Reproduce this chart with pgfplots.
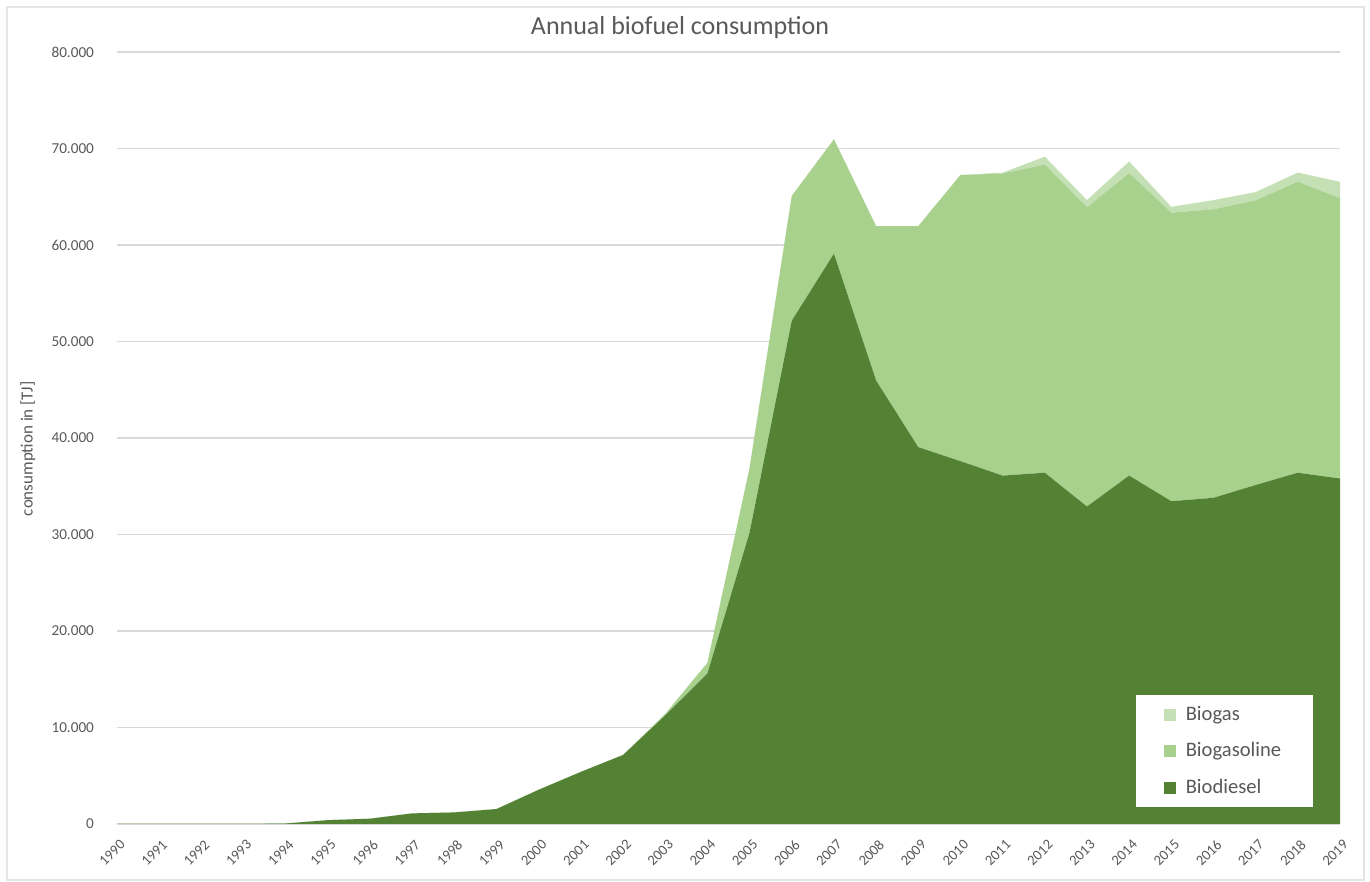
\documentclass[border=0pt]{standalone}
\usepackage{pgfplots}
\usepackage{pgfplotstable}
\pgfplotsset{compat=1.18}
\usepackage{fontspec}
\setmainfont{Carlito}
\definecolor{diesel}{HTML}{548235}
\definecolor{gasoline}{HTML}{A9D18E}
\definecolor{biogas}{HTML}{C5E0B4}
\definecolor{txt}{HTML}{595959}
\definecolor{gridc}{HTML}{D9D9D9}

\pgfplotstableread{
year diesel gasoline gas
1990 0 0 0
1991 0 0 0
1992 0 0 0
1993 0 0 0
1994 50 0 0
1995 400 0 0
1996 550 0 0
1997 1100 0 0
1998 1200 0 0
1999 1550 0 0
2000 3550 0 0
2001 5400 0 0
2002 7150 0 0
2003 11250 150 0
2004 15600 1100 0
2005 30200 6700 0
2006 52150 12930 0
2007 59100 11850 0
2008 45950 16000 0
2009 39050 22900 0
2010 37600 29650 0
2011 36100 31300 100
2012 36400 31950 800
2013 32900 31000 750
2014 36100 31350 1200
2015 33450 29900 600
2016 33800 29900 950
2017 35130 29500 850
2018 36400 30150 950
2019 35800 29050 1700
}\data

\begin{document}
\begin{tikzpicture}
\path[use as bounding box, fill=white] (-58.5pt,-29pt) rectangle (626.5pt,412pt);
\draw[gray!20, line width=0.8pt] (-55pt,-28pt) rectangle (623.5pt,408.5pt);
\begin{axis}[
  scale only axis,
  width=611.5pt, height=386pt,
  xmin=1990, xmax=2019, ymin=0, ymax=80000,
  enlargelimits=false,
  stack plots=y,
  xtick={1990,1991,...,2019},
  ytick={0,10000,...,80000},
  scaled y ticks=false,
  ymajorgrids,
  grid style={gridc, line width=0.6pt},
  axis line style={draw=none},
  major tick length=0pt,
  tick style={draw=none},
  /pgf/number format/assume math mode=true,
  yticklabel style={/pgf/number format/.cd, 1000 sep={.}, fixed, precision=0, /tikz/.cd,
    font=\fontsize{7.6}{9}\selectfont, text=txt, anchor=east, xshift=-8pt},
  xticklabel style={/pgf/number format/.cd, 1000 sep={}, /tikz/.cd,
    font=\fontsize{7.3}{8}\selectfont, text=txt, rotate=45, anchor=east, yshift=-8.5pt, xshift=-1pt},
  title={Annual biofuel consumption},
  title style={at={(0.4604,1.0156)}, anchor=center, font=\fontsize{13}{15}\selectfont, text=txt},
  ylabel={consumption in [TJ]},
  ylabel style={at={(-0.0728,0.486)}, anchor=center, rotate=0, font=\fontsize{8.5}{10}\selectfont, text=txt},
  reverse legend,
  legend image code/.code={\fill[#1] (0pt,-3pt) rectangle (6pt,3pt); \path (9pt,0pt);},
  legend style={at={(0.978,0.167)}, anchor=north east, draw=none, fill=white,
    font=\fontsize{10.3}{12}\selectfont, text=txt, inner xsep=13.75pt, inner ysep=3.5pt,
    row sep=5.5pt, cells={anchor=west}},
]
\addplot[fill=diesel, draw=none] table[x=year, y=diesel] {\data} \closedcycle;
\addlegendentry{Biodiesel}
\addplot[fill=gasoline, draw=none] table[x=year, y=gasoline] {\data} \closedcycle;
\addlegendentry{Biogasoline}
\addplot[fill=biogas, draw=none] table[x=year, y=gas] {\data} \closedcycle;
\addlegendentry{Biogas}
\end{axis}
\end{tikzpicture}
\end{document}
